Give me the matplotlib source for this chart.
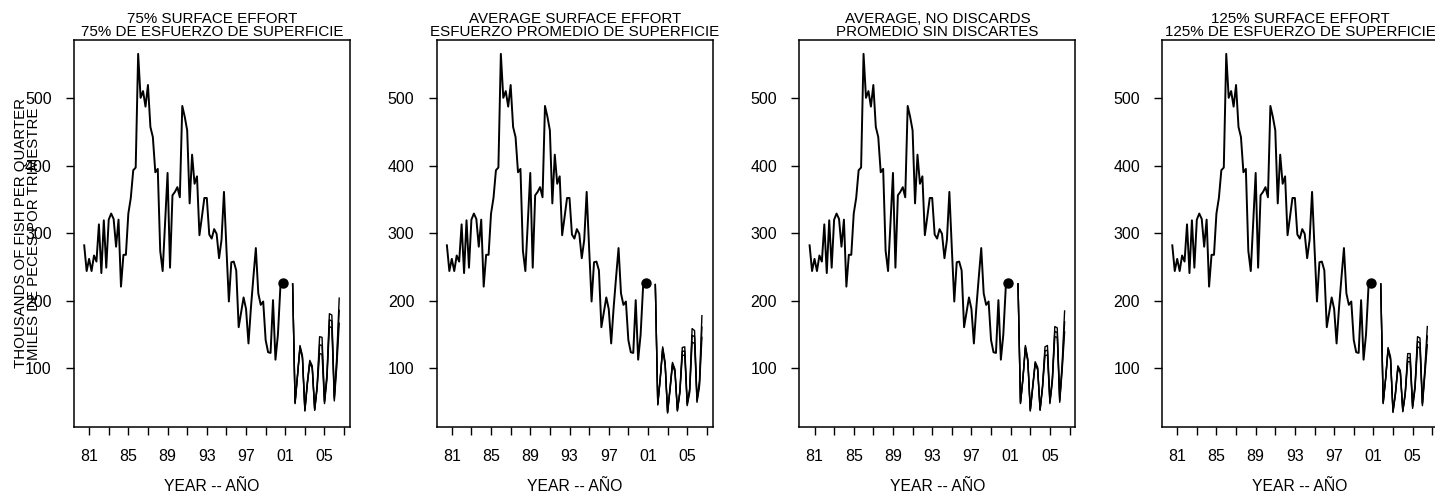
import numpy as np
import matplotlib
matplotlib.use('Agg')
import matplotlib.pyplot as plt

plt.rcParams['font.family'] = ['Liberation Sans', 'DejaVu Sans']
plt.rcParams['font.size'] = 10

# Datos historicos (trimestrales, miles de peces)
t0_hist = 1980.5
hist = [282, 244, 262, 244, 267, 258, 313, 241, 319, 249,
        320, 329, 321, 280, 320, 221, 268, 268, 329, 352,
        393, 397, 565, 500, 510, 487, 519, 457, 442, 390,
        395, 274, 244, 316, 389, 249, 356, 361, 368, 353,
        488, 472, 452, 344, 416, 373, 384, 297, 324, 352,
        352, 298, 292, 306, 299, 263, 290, 361, 278, 199,
        257, 258, 245, 161, 183, 205, 188, 137, 190, 235,
        278, 211, 194, 199, 142, 124, 123, 201, 113, 150,
        220]
dot_year = 2000.75
dot_value = 226

# Proyecciones (2001.75 - 2006.5): superior, mediana, inferior
t0_proj = 2001.75
p75_hi = [225, 50, 91, 134, 119, 39, 80, 112, 104, 40, 75, 147, 146, 52, 92, 181, 179, 58, 118, 204]
p75_md = [225, 49, 90, 132, 117, 38, 78, 110, 102, 39, 73, 135, 134, 50, 88, 172, 170, 55, 110, 186]
p75_lo = [225, 48, 89, 130, 115, 37, 76, 108, 100, 38, 71, 122, 121, 48, 84, 162, 160, 52, 102, 167]

pavg_hi = [224, 48, 86, 132, 109, 36, 72, 109, 99, 39, 67, 131, 132, 49, 70, 159, 156, 55, 82, 178]
pavg_md = [224, 47, 85, 130, 107, 35, 70, 107, 97, 38, 65, 125, 126, 47, 67, 149, 147, 52, 77, 161]
pavg_lo = [224, 46, 84, 128, 105, 34, 68, 105, 95, 37, 63, 119, 120, 45, 64, 139, 137, 50, 73, 146]

pnd_hi = [225, 50, 86, 134, 114, 39, 75, 110, 102, 40, 75, 132, 134, 52, 86, 162, 160, 55, 108, 185]
pnd_md = [225, 49, 85, 132, 112, 38, 73, 108, 100, 39, 73, 126, 127, 50, 83, 155, 153, 52, 102, 169]
pnd_lo = [225, 48, 84, 130, 110, 37, 71, 106, 98, 38, 71, 119, 120, 48, 80, 147, 146, 50, 97, 154]

p125_hi = [225, 50, 86, 131, 117, 37, 65, 104, 97, 38, 65, 122, 122, 45, 76, 147, 145, 49, 100, 162]
p125_md = [225, 49, 85, 129, 115, 36, 63, 102, 95, 37, 63, 116, 116, 43, 73, 140, 138, 47, 95, 148]
p125_lo = [225, 48, 84, 127, 113, 35, 61, 100, 93, 36, 61, 110, 110, 41, 70, 132, 130, 45, 90, 135]

titles = ['75% SURFACE EFFORT\n75% DE ESFUERZO DE SUPERFICIE',
          'AVERAGE SURFACE EFFORT\nESFUERZO PROMEDIO DE SUPERFICIE',
          'AVERAGE, NO DISCARDS\nPROMEDIO SIN DISCARTES',
          '125% SURFACE EFFORT\n125% DE ESFUERZO DE SUPERFICIE']
proyecciones = [(p75_hi, p75_md, p75_lo),
                (pavg_hi, pavg_md, pavg_lo),
                (pnd_hi, pnd_md, pnd_lo),
                (p125_hi, p125_md, p125_lo)]

x_ticks = np.arange(1981, 2008, 2)
x_labels = [('%02d' % (y % 100)) if (y - 1981) % 4 == 0 else '' for y in x_ticks]
y_ticks = [100, 200, 300, 400, 500]

t_hist = t0_hist + 0.25 * np.arange(len(hist))
t_proj = t0_proj + 0.25 * np.arange(len(p75_md))

W, H = 1435, 499
fig = plt.figure(figsize=(W / 100, H / 100), dpi=100)

for k in range(4):
    left = 74 + 362.7 * k
    ax = fig.add_axes([left / W, (H - 427) / H, 276 / W, 387 / H])

    ax.plot(t_hist, hist, color='black', lw=1.4)
    ax.plot([dot_year], [dot_value], 'o', color='black', markersize=6.5)
    for serie in proyecciones[k]:
        ax.plot(t_proj, serie, color='black', lw=1.0)

    ax.set_xlim(1979.46, 2007.6)
    ax.set_ylim(13.5, 585.5)
    ax.set_xticks(x_ticks)
    ax.set_xticklabels(x_labels)
    ax.set_yticks(y_ticks)
    ax.tick_params(axis='both', direction='out', length=6, width=1, labelsize=11.5)
    ax.tick_params(axis='x', pad=10)
    ax.tick_params(axis='y', pad=10)
    for s in ax.spines.values():
        s.set_linewidth(1.1)

    ax.set_title(titles[k], fontsize=10.9, linespacing=0.92, pad=3)
    ax.text(0.5, -0.155, 'YEAR -- AÑO', transform=ax.transAxes,
            ha='center', va='center', fontsize=11.3)

    if k == 0:
        # etiqueta del eje y (se superpone a los numeros, como en el original)
        ax.text(-0.168, 0.5, 'THOUSANDS OF FISH PER QUARTER\nMILES DE PECES POR TRIMESTRE',
                transform=ax.transAxes, rotation=90, ha='center', va='center',
                fontsize=10.8, linespacing=0.92)

fig.savefig('out.png', dpi=100)
